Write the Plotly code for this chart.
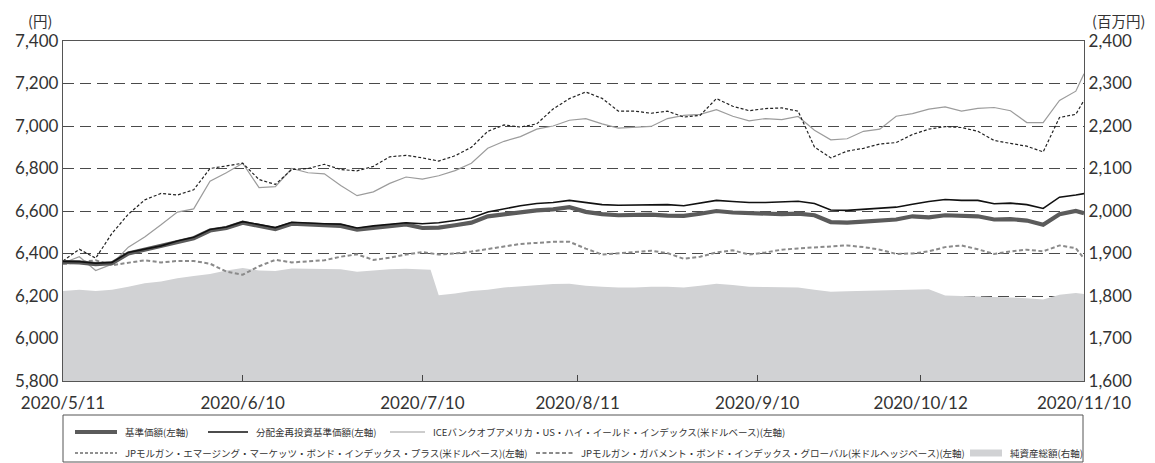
import pandas as pd
import plotly.graph_objects as go

# ---------------- data ----------------
JP_HOLIDAYS = ["2020-07-23", "2020-07-24", "2020-08-10", "2020-09-21", "2020-09-22", "2020-11-03"]
bdays = pd.bdate_range("2020-05-11", "2020-11-10", freq="C", holidays=JP_HOLIDAYS)
bday_str = [d.strftime("%Y-%m-%d") for d in bdays]

# sample positions (business-day index) at which values were read
line_pos = list(range(0, 125, 2)) + [125]
net_pos = list(range(0, 46, 2)) + [45] + list(range(46, 125, 2)) + [125]
line_dates = [bday_str[i] for i in line_pos]
net_dates = [bday_str[i] for i in net_pos]

tick_dates = ["2020-05-11", "2020-06-10", "2020-07-10", "2020-08-11", "2020-09-10", "2020-10-12", "2020-11-10"]
tick_text = ["2020/5/11", "2020/6/10", "2020/7/10", "2020/8/11", "2020/9/10", "2020/10/12", "2020/11/10"]

nav = [6360, 6358, 6350, 6354, 6400, 6418, 6432, 6455,
       6472, 6508, 6520, 6545, 6530, 6515, 6540, 6535,
       6532, 6530, 6512, 6522, 6530, 6537, 6520, 6522,
       6533, 6545, 6575, 6585, 6595, 6603, 6608, 6618,
       6596, 6585, 6580, 6580, 6583, 6578, 6577, 6587,
       6600, 6593, 6590, 6584, 6585, 6588, 6580, 6548,
       6545, 6550, 6555, 6560, 6575, 6570, 6580, 6577,
       6575, 6560, 6562, 6555, 6535, 6585, 6600, 6590]

nav_reinv = [6363, 6362, 6354, 6358, 6405, 6422, 6436, 6459,
             6476, 6513, 6525, 6550, 6537, 6522, 6547, 6542,
             6540, 6538, 6520, 6530, 6538, 6545, 6540, 6545,
             6555, 6567, 6595, 6610, 6625, 6635, 6640, 6650,
             6640, 6630, 6627, 6627, 6630, 6630, 6625, 6636,
             6650, 6645, 6640, 6640, 6643, 6646, 6635, 6605,
             6603, 6608, 6612, 6618, 6632, 6645, 6654, 6650,
             6650, 6634, 6637, 6630, 6612, 6665, 6675, 6682]

ice_hy = [6355, 6385, 6320, 6350, 6430, 6478, 6535, 6595,
          6610, 6740, 6780, 6825, 6710, 6715, 6800, 6780,
          6775, 6720, 6672, 6690, 6730, 6760, 6750, 6766,
          6790, 6825, 6895, 6928, 6950, 6985, 7000, 7027,
          7035, 7010, 6990, 6995, 6998, 7035, 7050, 7055,
          7077, 7046, 7024, 7035, 7030, 7045, 6980, 6935,
          6940, 6975, 6985, 7046, 7058, 7079, 7090, 7070,
          7083, 7087, 7072, 7016, 7016, 7120, 7164, 7246]

embi_plus = [6365, 6420, 6378, 6495, 6585, 6652, 6683, 6675,
             6700, 6800, 6812, 6825, 6748, 6725, 6795, 6800,
             6820, 6795, 6789, 6810, 6855, 6862, 6850, 6835,
             6860, 6900, 6975, 7005, 6995, 7010, 7080, 7129,
             7160, 7130, 7070, 7070, 7060, 7070, 7042, 7050,
             7129, 7093, 7072, 7082, 7085, 7070, 6901, 6850,
             6882, 6895, 6915, 6922, 6960, 6985, 6997, 6993,
             6975, 6932, 6918, 6905, 6878, 7040, 7055, 7121]

gbi_global = [6350, 6360, 6368, 6345, 6355, 6368, 6358, 6365,
              6365, 6352, 6315, 6300, 6340, 6370, 6358, 6362,
              6368, 6385, 6396, 6370, 6380, 6395, 6407, 6395,
              6400, 6409, 6420, 6432, 6445, 6450, 6455, 6455,
              6423, 6395, 6400, 6407, 6413, 6402, 6375, 6385,
              6405, 6415, 6395, 6405, 6418, 6424, 6428, 6432,
              6438, 6430, 6418, 6398, 6400, 6410, 6430, 6438,
              6420, 6398, 6410, 6418, 6410, 6438, 6425, 6376]

net_assets = [1812, 1815, 1812, 1815, 1822, 1830, 1834, 1842,
              1847, 1852, 1860, 1866, 1860, 1859, 1865, 1864,
              1864, 1863, 1857, 1860, 1863, 1864, 1863,
              1862,
              1802, 1806, 1812, 1815, 1820, 1823, 1826, 1828,
              1829, 1824, 1822, 1820, 1820, 1822, 1822, 1820,
              1824, 1829, 1826, 1822, 1821, 1821, 1820, 1815,
              1810, 1811, 1812, 1812, 1813, 1814, 1816, 1801,
              1800, 1799, 1798, 1797, 1795, 1792, 1803, 1807, 1805]

names = ["基準価額(左軸)", "分配金再投資基準価額(左軸)",
         "ICEバンクオブアメリカ・US・ハイ・イールド・インデックス(米ドルベース)(左軸)",
         "JPモルガン・エマージング・マーケッツ・ボンド・インデックス・プラス(米ドルベース)(左軸)",
         "JPモルガン・ガバメント・ボンド・インデックス・グローバル(米ドルヘッジベース)(左軸)",
         "純資産総額(右軸)"]

# ---------------- styles ----------------
C_NAV = "#5b5b5b"
C_REINV = "#111111"
C_ICE = "#9c9c9c"
C_EMBI = "#222222"
C_GBI = "#8a8a8a"
C_AREA = "#d1d2d4"
TXT = "#333333"
FONT = "Lato, Noto Sans CJK JP, sans-serif"
JFONT = "Noto Sans CJK JP, sans-serif"

styles = {
    "nav": dict(color=C_NAV, width=4.2),
    "reinv": dict(color=C_REINV, width=1.6),
    "ice": dict(color=C_ICE, width=1.2),
    "embi": dict(color=C_EMBI, width=1.2, dash="3px,2px"),
    "gbi": dict(color=C_GBI, width=2, dash="4px,2.5px"),
}

fig = go.Figure()
fig.add_trace(go.Scatter(x=net_dates, y=net_assets, mode="lines", fill="tozeroy",
                         fillcolor=C_AREA, line=dict(width=0, color=C_AREA),
                         yaxis="y", name=names[5], showlegend=False, hoverinfo="skip"))
for key, vals, nm in [("gbi", gbi_global, names[4]), ("ice", ice_hy, names[2]),
                      ("embi", embi_plus, names[3]), ("nav", nav, names[0]),
                      ("reinv", nav_reinv, names[1])]:
    fig.add_trace(go.Scatter(x=line_dates, y=vals, mode="lines", line=styles[key],
                             yaxis="y2", name=nm, showlegend=False, hoverinfo="skip"))

# ---------------- layout ----------------
# the page body has an 8px default margin, so the figure is offset by OFF px
OFF = 8
SCR_W, SCR_H = 1155, 463
W, H = SCR_W - OFF, SCR_H - OFF
PL, PR, PT, PB = 63, 1084, 41, 381          # plot area edges in screen px
ML, MT = PL - OFF, PT - OFF
PW, PH = PR - PL, PB - PT
MR, MB = W - ML - PW, H - MT - PH


def px_x(p):
    return (p - PL) / PW


def px_y(p):
    return (PB - p) / PH


fig.update_layout(
    width=W, height=H,
    margin=dict(l=ML, r=MR, t=MT, b=MB, pad=0, autoexpand=False),
    paper_bgcolor="white", plot_bgcolor="white",
    font=dict(family=FONT, color=TXT),
    hovermode=False,
    showlegend=False,
    xaxis=dict(
        type="date", range=["2020-05-11", "2020-11-10"],
        rangebreaks=[dict(bounds=["sat", "mon"]), dict(values=JP_HOLIDAYS)],
        tickmode="array", tickvals=tick_dates, ticktext=tick_text,
        ticks="inside", ticklen=6, tickwidth=1, tickcolor="#444",
        ticklabelstandoff=6,
        showgrid=False, zeroline=False,
        showline=True, linecolor="#555", linewidth=1.4, mirror=True,
        tickfont=dict(size=17, color=TXT, family=FONT),
    ),
    yaxis=dict(
        side="right", range=[1600, 2400], dtick=100, tick0=1600, tickformat=",",
        showgrid=True, gridcolor="#4a4a4a", gridwidth=1, griddash="11px,6px",
        zeroline=False, ticks="",
        showline=True, linecolor="#555", linewidth=1.4, mirror=True,
        tickfont=dict(size=17, color=TXT, family=FONT),
    ),
    yaxis2=dict(
        overlaying="y", side="left", range=[5800, 7400], dtick=200, tick0=5800,
        tickformat=",", showgrid=False, zeroline=False, ticks="",
        showline=True, linecolor="#555", linewidth=1.4,
        tickfont=dict(size=17, color=TXT, family=FONT),
    ),
)

annotations = [
    dict(text="(円)", x=px_x(40), y=px_y(20), xref="paper", yref="paper",
         showarrow=False, font=dict(size=14.5, color=TXT, family=JFONT), xanchor="center", yanchor="middle"),
    dict(text="(百万円)", x=px_x(1118), y=px_y(20), xref="paper", yref="paper",
         showarrow=False, font=dict(size=14.5, color=TXT, family=JFONT), xanchor="center", yanchor="middle"),
]

shapes = [dict(type="rect", xref="paper", yref="paper",
               x0=px_x(63), x1=px_x(1083), y0=px_y(462), y1=px_y(415),
               line=dict(color="#555", width=1), fillcolor="rgba(0,0,0,0)", layer="above")]

# legend entries: (label, kind, style, sample start px, sample end px, row y px)
legend_items = [
    (names[0], "line", styles["nav"], 75, 117, 432),
    (names[1], "line", styles["reinv"], 208, 248, 432),
    (names[2], "line", styles["ice"], 390, 425, 432),
    (names[3], "line", styles["embi"], 75, 117, 453),
    (names[4], "line", styles["gbi"], 536, 573, 453),
    (names[5], "rect", dict(color=C_AREA), 970, 1002, 453),
]
for label, kind, st, a, b, ry in legend_items:
    if kind == "line":
        shapes.append(dict(type="line", xref="paper", yref="paper",
                           x0=px_x(a), x1=px_x(b), y0=px_y(ry), y1=px_y(ry),
                           line=dict(color=st["color"], width=st["width"], dash=st.get("dash", "solid"))))
    else:
        shapes.append(dict(type="rect", xref="paper", yref="paper",
                           x0=px_x(a), x1=px_x(b), y0=px_y(ry + 3.5), y1=px_y(ry - 3.5),
                           line=dict(width=0), fillcolor=st["color"]))
    annotations.append(dict(text=label, x=px_x(b + 6), y=px_y(ry), xref="paper", yref="paper",
                            showarrow=False, xanchor="left", yanchor="middle",
                            font=dict(size=9.5, color=TXT, family=JFONT)))

fig.update_layout(shapes=shapes, annotations=annotations)

fig.write_html("out.html", config={"displayModeBar": False})
